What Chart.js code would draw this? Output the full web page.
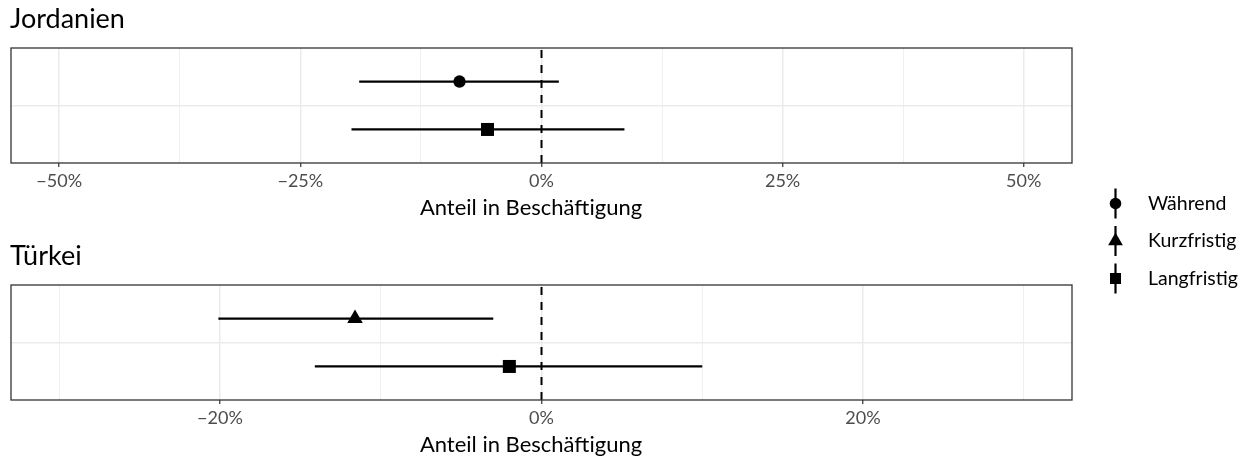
<!DOCTYPE html>
<html lang="de">
<head>
<meta charset="utf-8">
<title>Anteil in Beschäftigung – Jordanien und Türkei</title>
<script src="https://cdn.jsdelivr.net/npm/chart.js@4.4.1/dist/chart.umd.min.js"></script>
<style>
  html, body { margin: 0; padding: 0; background: #ffffff; }
  #wrap { position: relative; width: 1246px; height: 458px; overflow: hidden; }
  #wrap canvas { position: absolute; left: 0; top: 0; }
</style>
</head>
<body>
<div id="wrap">
  <canvas id="jordanien" width="1246" height="458"></canvas>
  <canvas id="tuerkei" width="1246" height="458"></canvas>
</div>
<script>
// Effekte auf den Anteil in Beschäftigung: Punktschätzer mit Konfidenzintervall (in Prozent)
const jordanienSeries   = ['Während', 'Langfristig'];
const jordanienEstimate = [-8.5, -5.6];
const jordanienLower    = [-18.9, -19.7];
const jordanienUpper    = [1.8, 8.6];
const jordanienTicks    = [-50, -25, 0, 25, 50];

const tuerkeiSeries   = ['Kurzfristig', 'Langfristig'];
const tuerkeiEstimate = [-11.6, -2.0];
const tuerkeiLower    = [-20.1, -14.1];
const tuerkeiUpper    = [-3.0, 10.0];
const tuerkeiTicks    = [-20, 0, 20];

const legendSeries = ['Während', 'Kurzfristig', 'Langfristig'];
const axisTitle = 'Anteil in Beschäftigung';

// --- Darstellung ---
const W = 1246, H = 458;
const FONT = 'Lato, "Liberation Sans", sans-serif';
const AXIS_H = 58;
const CAPTION_X = 531;
Chart.defaults.font.family = FONT;

const markerStyle = {
  'Während':     { pointStyle: 'circle',   radius: 6.2 },
  'Kurzfristig': { pointStyle: 'triangle', radius: 9 },
  'Langfristig': { pointStyle: 'rect',     radius: 9.2 }
};
const legendMarker = {
  'Während':     { pointStyle: 'circle',   radius: 5.8 },
  'Kurzfristig': { pointStyle: 'triangle', radius: 8.5 },
  'Langfristig': { pointStyle: 'rect',     radius: 7.8 }
};

const fmtPct = v => (v < 0 ? '\u2212' : '') + Math.abs(v) + '%';

function drawMarker(ctx, style, x, y) {
  if (Chart.helpers && Chart.helpers.drawPoint) {
    Chart.helpers.drawPoint(ctx, { pointStyle: style.pointStyle, radius: style.radius, rotation: 0, borderWidth: 0 }, x, y);
    return;
  }
  const r = style.radius;
  ctx.beginPath();
  if (style.pointStyle === 'circle') ctx.arc(x, y, r, 0, Math.PI * 2);
  else if (style.pointStyle === 'rect') { const s = r * Math.SQRT1_2; ctx.rect(x - s, y - s, 2 * s, 2 * s); }
  else { ctx.moveTo(x, y - r); ctx.lineTo(x + r * 0.866, y + r / 2); ctx.lineTo(x - r * 0.866, y + r / 2); ctx.closePath(); }
  ctx.fill();
}

const panelFrame = {
  id: 'panelFrame',
  afterDatasetsDraw(chart) {
    const { ctx, chartArea: a } = chart;
    ctx.save();
    ctx.strokeStyle = '#333333';
    ctx.lineWidth = 1.3;
    ctx.strokeRect(a.left, a.top, a.right - a.left, a.bottom - a.top);
    ctx.restore();
  }
};

// Panel-Überschrift und Achsenbeschriftung
const panelText = {
  id: 'panelText',
  afterDraw(chart, args, opts) {
    const { ctx } = chart;
    const xScale = chart.scales.x;
    ctx.save();
    ctx.fillStyle = '#000000';
    ctx.font = '27px ' + FONT;
    ctx.textBaseline = 'alphabetic';
    ctx.textAlign = 'left';
    ctx.fillText(opts.title, opts.x, opts.y);

    ctx.font = '22px ' + FONT;
    ctx.textBaseline = 'middle';
    ctx.textAlign = 'center';
    ctx.fillText(opts.caption, opts.captionX, xScale.bottom - 13.2);
    ctx.restore();
  }
};

const sharedLegend = {
  id: 'sharedLegend',
  afterDraw(chart, args, opts) {
    if (!opts.items) return;
    const { ctx } = chart;
    ctx.save();
    opts.items.forEach((name, i) => {
      const y = opts.y0 + i * opts.gap;
      ctx.strokeStyle = '#000000';
      ctx.lineWidth = 2.2;
      ctx.beginPath();
      ctx.moveTo(opts.x, y - 15);
      ctx.lineTo(opts.x, y + 15);
      ctx.stroke();
      ctx.fillStyle = '#000000';
      drawMarker(ctx, legendMarker[name], opts.x, y);
      ctx.font = '19.5px ' + FONT;
      ctx.textBaseline = 'middle';
      ctx.textAlign = 'left';
      ctx.fillText(name, opts.textX, y);
    });
    ctx.restore();
  }
};

function makePanel(id, title, series, est, lower, upper, majors, limit, minorStep, area, titleY, legend) {
  const rowPos = i => 0.25 - 0.5 * i;
  // Nebengitter auf Vielfachen der halben Tickweite
  const minors = [];
  for (let k = -Math.floor(limit / minorStep); k <= Math.floor(limit / minorStep); k++) {
    const v = Math.round(k * minorStep * 100) / 100;
    if (!majors.includes(v)) minors.push(v);
  }
  const allTicks = majors.concat(minors).sort((a, b) => a - b);
  const isMajor = c => c.tick && majors.includes(c.tick.value);

  const datasets = [];
  series.forEach((name, i) => {
    datasets.push({
      type: 'scatter',
      label: name,
      data: [{ x: est[i], y: rowPos(i) }],
      pointStyle: markerStyle[name].pointStyle,
      pointRadius: markerStyle[name].radius,
      pointHoverRadius: markerStyle[name].radius,
      backgroundColor: '#000000',
      borderColor: '#000000',
      borderWidth: 0
    });
  });
  series.forEach((name, i) => {
    datasets.push({
      type: 'line',
      label: name + ' KI',
      data: [{ x: lower[i], y: rowPos(i) }, { x: upper[i], y: rowPos(i) }],
      borderColor: '#000000',
      borderWidth: 2.2,
      pointRadius: 0,
      fill: false
    });
  });
  datasets.push({
    type: 'line',
    label: 'Null',
    data: [{ x: 0, y: -0.6 }, { x: 0, y: 0.6 }],
    borderColor: '#000000',
    borderWidth: 2,
    borderDash: [8, 7],
    pointRadius: 0,
    fill: false
  });

  return new Chart(document.getElementById(id), {
    type: 'scatter',
    data: { datasets },
    options: {
      responsive: false,
      animation: false,
      events: [],
      layout: {
        padding: { left: area.left, right: W - area.right, top: area.top, bottom: H - area.bottom - AXIS_H }
      },
      scales: {
        x: {
          type: 'linear',
          min: -limit,
          max: limit,
          afterBuildTicks: s => { s.ticks = allTicks.map(v => ({ value: v })); },
          afterFit: s => { s.height = AXIS_H; },
          ticks: {
            autoSkip: false,
            maxRotation: 0,
            padding: 3,
            color: '#4d4d4d',
            font: { size: 18 },
            callback: v => (majors.includes(v) ? fmtPct(v) : '')
          },
          grid: {
            color: '#ebebeb',
            lineWidth: c => (isMajor(c) ? 1.5 : 0.8),
            tickColor: c => (isMajor(c) ? '#333333' : 'rgba(0,0,0,0)'),
            tickLength: 4,
            tickWidth: 1.2
          },
          border: { display: false },
          title: { display: false }
        },
        y: {
          type: 'linear',
          min: -0.6,
          max: 0.6,
          afterBuildTicks: s => { s.ticks = [{ value: 0 }]; },
          afterFit: s => { s.width = 0; },
          ticks: { display: false },
          grid: { color: '#ebebeb', lineWidth: 1.5, drawTicks: false },
          border: { display: false }
        }
      },
      plugins: {
        legend: { display: false },
        tooltip: { enabled: false },
        panelText: { title: title, x: 10, y: titleY, caption: axisTitle, captionX: CAPTION_X },
        sharedLegend: legend || {}
      }
    },
    plugins: [panelFrame, panelText, sharedLegend]
  });
}

makePanel('jordanien', 'Jordanien', jordanienSeries, jordanienEstimate, jordanienLower, jordanienUpper,
  jordanienTicks, 55, 12.5, { left: 11, right: 1072, top: 48, bottom: 163 }, 28, null);

makePanel('tuerkei', 'Türkei', tuerkeiSeries, tuerkeiEstimate, tuerkeiLower, tuerkeiUpper,
  tuerkeiTicks, 33, 10, { left: 11, right: 1072, top: 285, bottom: 400 }, 265,
  { items: legendSeries, x: 1115.5, textX: 1148, y0: 203.5, gap: 37.5 });
</script>
</body>
</html>
